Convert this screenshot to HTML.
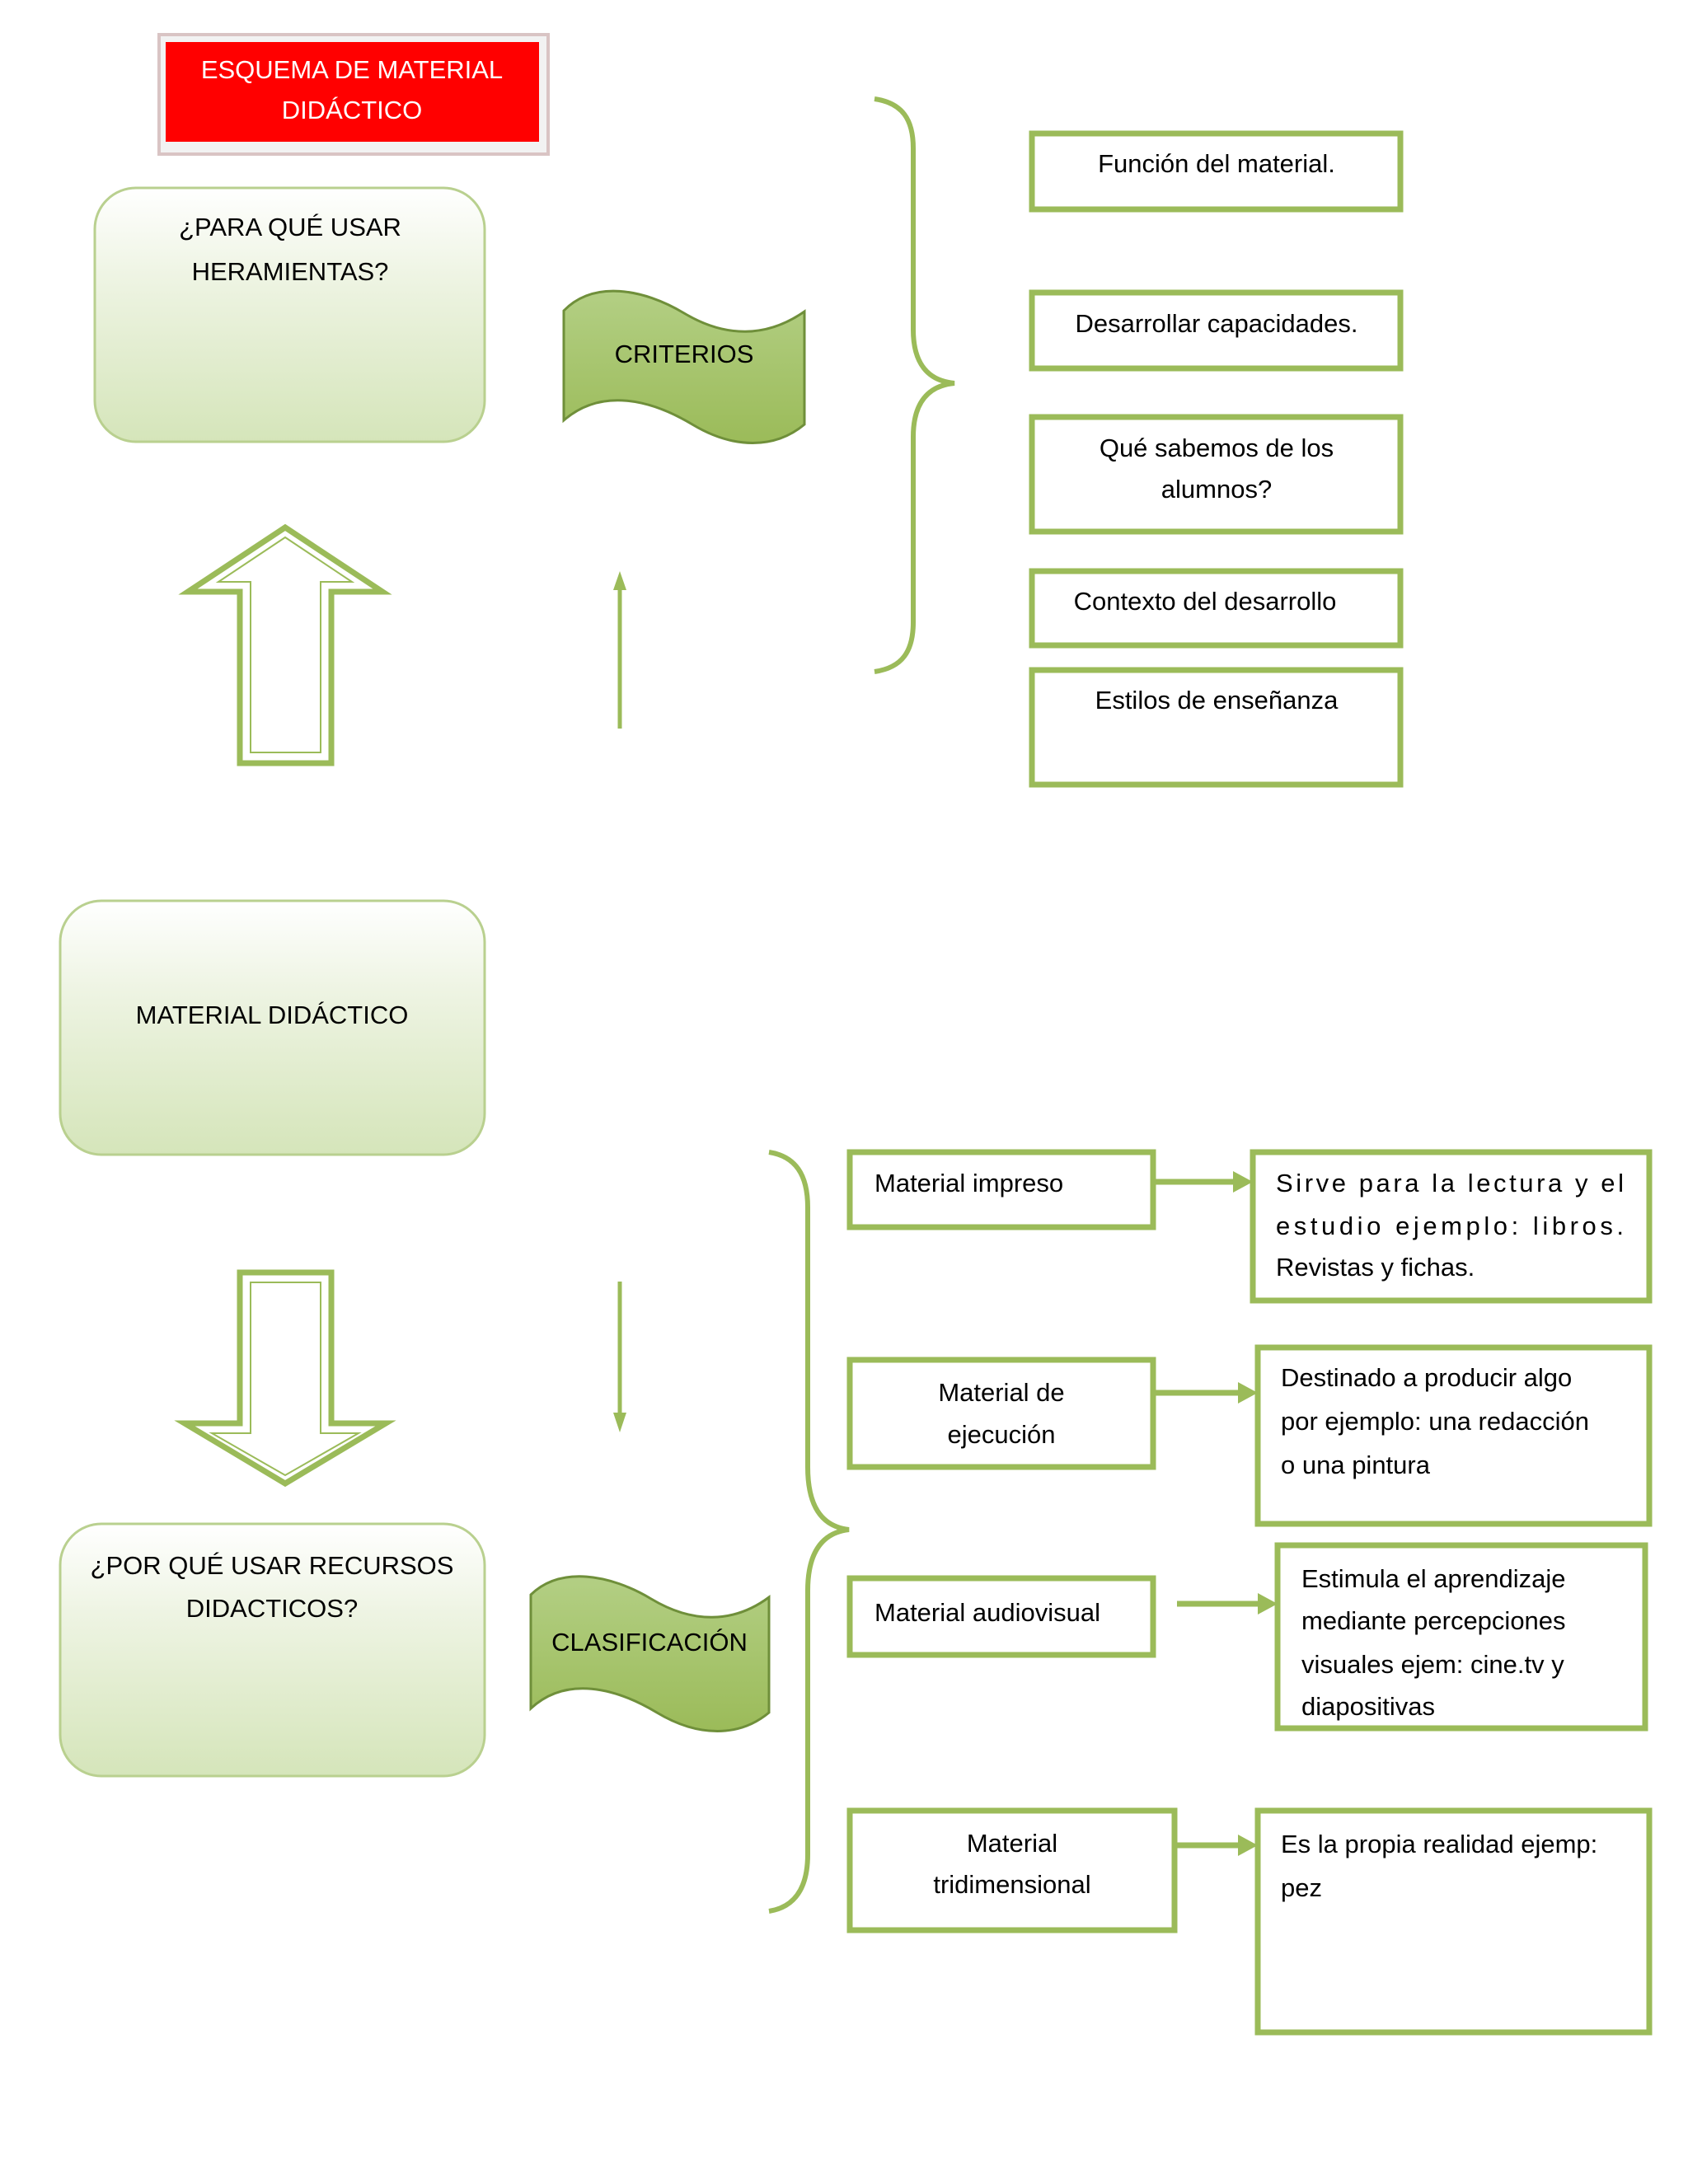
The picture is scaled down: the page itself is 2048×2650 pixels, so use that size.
<!DOCTYPE html>
<html><head><meta charset="utf-8"><style>
html,body{margin:0;padding:0;background:#fff;}
svg{display:block;}
text{font-family:"Liberation Sans",sans-serif;fill:#000;}
</style></head><body>
<svg width="2048" height="2650" viewBox="0 0 2048 2650" xmlns="http://www.w3.org/2000/svg">
<defs>
<linearGradient id="rg" x1="0" y1="0" x2="0" y2="1">
<stop offset="0" stop-color="#ffffff"/><stop offset="0.35" stop-color="#eef4e3"/><stop offset="1" stop-color="#d5e5ba"/>
</linearGradient>
<linearGradient id="bg" x1="0" y1="0" x2="0" y2="1">
<stop offset="0" stop-color="#b3cf84"/><stop offset="1" stop-color="#9bbb59"/>
</linearGradient>
</defs>

<!-- Title -->
<rect x="193" y="42" width="472" height="145" fill="#f2f2f2" stroke="#d9c4c4" stroke-width="4"/>
<rect x="201" y="51" width="453" height="121" fill="#ff0000"/>
<text x="427" y="95" font-size="31" text-anchor="middle" style="fill:#fff">ESQUEMA DE MATERIAL</text>
<text x="427" y="144" font-size="31" text-anchor="middle" style="fill:#fff">DIDÁCTICO</text>

<!-- rounded boxes -->
<g stroke="#b9d08f" stroke-width="3" fill="url(#rg)">
<rect x="115" y="228" width="473" height="308" rx="50"/>
<rect x="73" y="1093" width="515" height="308" rx="50"/>
<rect x="73" y="1849" width="515" height="306" rx="50"/>
</g>
<text x="352" y="286" font-size="31" text-anchor="middle">¿PARA QUÉ USAR</text>
<text x="352" y="340" font-size="31" text-anchor="middle">HERAMIENTAS?</text>
<text x="330" y="1242" font-size="31" text-anchor="middle">MATERIAL DIDÁCTICO</text>
<text x="330" y="1910" font-size="31" text-anchor="middle">¿POR QUÉ USAR RECURSOS</text>
<text x="330" y="1962" font-size="31" text-anchor="middle">DIDACTICOS?</text>

<!-- banners -->
<path d="M684,377 C720,340 780,350 830,380 C880,410 930,410 976,378 L976,515 C940,545 890,545 840,515 C790,485 730,470 684,510 Z" fill="url(#bg)" stroke="#6f8f3a" stroke-width="3"/>
<text x="830" y="440" font-size="31" text-anchor="middle">CRITERIOS</text>
<path d="M644,1935 C680,1900 740,1910 790,1940 C840,1970 890,1970 933,1938 L933,2078 C897,2108 847,2108 797,2078 C747,2048 687,2033 644,2073 Z" fill="url(#bg)" stroke="#6f8f3a" stroke-width="3"/>
<text x="788" y="2003" font-size="31" text-anchor="middle">CLASIFICACIÓN</text>

<!-- big arrows -->
<g fill="none" stroke="#9bbb59" stroke-width="7">
<path d="M291,926 L291,718 L228,718 L346,640 L464,718 L402,718 L402,926 Z"/>
<path d="M291,1544 L402,1544 L402,1727 L468,1727 L346,1800 L224,1727 L291,1727 Z"/>
</g>
<g fill="none" stroke="#9bbb59" stroke-width="2">
<path d="M304,913 L304,706 L265,706 L346,652 L427,706 L389,706 L389,913 Z"/>
<path d="M304,1556 L389,1556 L389,1739 L435,1739 L346,1790 L257,1739 L304,1739 Z"/>
</g>

<!-- thin arrows -->
<line x1="752" y1="884" x2="752" y2="710" stroke="#9bbb59" stroke-width="5"/>
<polygon points="752,693 744,716 760,716" fill="#9bbb59"/>
<line x1="752" y1="1555" x2="752" y2="1718" stroke="#9bbb59" stroke-width="5"/>
<polygon points="752,1738 744,1714 760,1714" fill="#9bbb59"/>

<!-- braces -->
<g fill="none" stroke="#9bbb59" stroke-width="6">
<path d="M1061,120 C1095,125 1108,145 1108,180 L1108,400 C1108,440 1125,462 1158,465 C1125,468 1108,490 1108,530 L1108,755 C1108,790 1095,810 1061,815"/>
<path d="M933,1398 C965,1403 980,1425 980,1465 L980,1780 C980,1825 995,1852 1030,1856 C995,1860 980,1887 980,1930 L980,2250 C980,2290 965,2314 933,2319"/>
</g>

<!-- top right boxes -->
<g fill="#fff" stroke="#9bbb59" stroke-width="7">
<rect x="1252" y="162" width="447" height="92"/>
<rect x="1252" y="355" width="447" height="92"/>
<rect x="1252" y="506" width="447" height="139"/>
<rect x="1252" y="693" width="447" height="90"/>
<rect x="1252" y="813" width="447" height="139"/>
<!-- bottom boxes -->
<rect x="1031" y="1398" width="368" height="91"/>
<rect x="1031" y="1650" width="368" height="130"/>
<rect x="1031" y="1915" width="368" height="93"/>
<rect x="1031" y="2197" width="394" height="145"/>
<rect x="1520" y="1398" width="481" height="180"/>
<rect x="1526" y="1635" width="475" height="214"/>
<rect x="1550" y="1875" width="446" height="222"/>
<rect x="1526" y="2197" width="475" height="269"/>
</g>
<g font-size="31">
<text x="1476" y="209" text-anchor="middle">Función del material.</text>
<text x="1476" y="403" text-anchor="middle">Desarrollar capacidades.</text>
<text x="1476" y="554" text-anchor="middle">Qué sabemos de los</text>
<text x="1476" y="604" text-anchor="middle">alumnos?</text>
<text x="1462" y="740" text-anchor="middle">Contexto del desarrollo</text>
<text x="1476" y="860" text-anchor="middle">Estilos de enseñanza</text>

<text x="1061" y="1446">Material impreso</text>
<text x="1215" y="1700" text-anchor="middle">Material de</text>
<text x="1215" y="1751" text-anchor="middle">ejecución</text>
<text x="1061" y="1967">Material audiovisual</text>
<text x="1228" y="2247" text-anchor="middle">Material</text>
<text x="1228" y="2297" text-anchor="middle">tridimensional</text>

<text x="1548" y="1446" textLength="422" lengthAdjust="spacing">Sirve  para  la  lectura  y  el</text>
<text x="1548" y="1498" textLength="422" lengthAdjust="spacing">estudio   ejemplo:   libros.</text>
<text x="1548" y="1548">Revistas y fichas.</text>
<text x="1554" y="1682">Destinado a producir algo</text>
<text x="1554" y="1735">por ejemplo: una redacción</text>
<text x="1554" y="1788">o una pintura</text>
<text x="1579" y="1926">Estimula el aprendizaje</text>
<text x="1579" y="1977">mediante percepciones</text>
<text x="1579" y="2030">visuales ejem: cine.tv y</text>
<text x="1579" y="2081">diapositivas</text>
<text x="1554" y="2248">Es la propia realidad ejemp:</text>
<text x="1554" y="2301">pez</text>
</g>

<!-- small arrows -->
<g stroke="#9bbb59" stroke-width="7">
<line x1="1401" y1="1434" x2="1498" y2="1434"/>
<line x1="1401" y1="1690" x2="1504" y2="1690"/>
<line x1="1428" y1="1946" x2="1528" y2="1946"/>
<line x1="1427" y1="2239" x2="1504" y2="2239"/>
</g>
<g fill="#9bbb59">
<polygon points="1520,1434 1496,1421 1496,1447"/>
<polygon points="1526,1690 1502,1677 1502,1703"/>
<polygon points="1550,1946 1526,1933 1526,1959"/>
<polygon points="1526,2239 1502,2226 1502,2252"/>
</g>
</svg>
</body></html>
